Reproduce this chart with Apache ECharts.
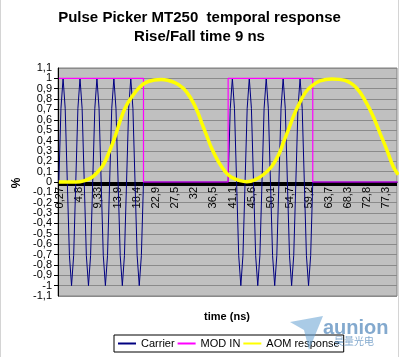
<!DOCTYPE html>
<html><head><meta charset="utf-8">
<script src="https://cdn.jsdelivr.net/npm/echarts@6/dist/echarts.min.js"></script>
<style>html,body{margin:0;padding:0;background:#fff}#c{width:399px;height:357px}</style>
</head><body><div id="c"></div>
<script>
const titleText = 'Pulse Picker MT250  temporal response\nRise/Fall time 9 ns';
const xAxisTitle = 'time (ns)';
const yAxisTitle = '%';
const seriesNames = ['Carrier', 'MOD IN', 'AOM response'];
const xTickValues = [0.27, 4.8, 9.33, 13.87, 18.4, 22.93, 27.47, 32, 36.53, 41.07, 45.6, 50.13, 54.67, 59.2, 63.73, 68.27, 72.8, 77.33];
const xTickLabels = ['0,27', '4,8', '9,33', '13,9', '18,4', '22,9', '27,5', '32', '36,5', '41,1', '45,6', '50,1', '54,7', '59,2', '63,7', '68,3', '72,8', '77,3'];
const yEndLabels = [-1.1, 1.1];

// Carrier [time ns, value]
const carrier = [
  [0,0],[0.5,0.71],[1,1],[1.5,0.71],[2,0],[2.5,-0.71],[3,-1],[3.5,-0.71],
  [4,0],[4.5,0.71],[5,1],[5.5,0.71],[6,0],[6.5,-0.71],[7,-1],[7.5,-0.71],
  [8,0],[8.5,0.71],[9,1],[9.5,0.71],[10,0],[10.5,-0.71],[11,-1],[11.5,-0.71],
  [12,0],[12.5,0.71],[13,1],[13.5,0.71],[14,0],[14.5,-0.71],[15,-1],[15.5,-0.71],
  [16,0],[16.5,0.71],[17,1],[17.5,0.71],[18,0],[18.5,-0.71],[19,-1],[19.5,-0.71],
  [20,0],
  [40,0],[40.5,0.71],[41,1],[41.5,0.71],[42,0],[42.5,-0.71],[43,-1],[43.5,-0.71],
  [44,0],[44.5,0.71],[45,1],[45.5,0.71],[46,0],[46.5,-0.71],[47,-1],[47.5,-0.71],
  [48,0],[48.5,0.71],[49,1],[49.5,0.71],[50,0],[50.5,-0.71],[51,-1],[51.5,-0.71],
  [52,0],[52.5,0.71],[53,1],[53.5,0.71],[54,0],[54.5,-0.71],[55,-1],[55.5,-0.71],
  [56,0],[56.5,0.71],[57,1],[57.5,0.71],[58,0],[58.5,-0.71],[59,-1],[59.5,-0.71],
  [60,0],[80,0]
];
// MOD IN [time ns, value]
const modIn = [[0,1],[20,1],[20,0],[40,0],[40,1],[60,1],[60,0],[80,0]];
// AOM response [time ns, value]
const aom = [
  [0,0],[3,0],[5,0.003],[7.4,0.035],[8.9,0.085],[10.5,0.165],[12.1,0.31],[13.3,0.44],
  [14.4,0.58],[15.6,0.71],[17.2,0.82],[19.2,0.92],[21.1,0.97],[24.2,0.99],
  [27.4,0.96],[29.4,0.905],[31.0,0.82],[32.6,0.695],[33.8,0.566],[35.0,0.44],
  [36.1,0.325],[37.7,0.196],[39.3,0.1],[40.8,0.045],[42.8,0.013],[44.4,0.003],
  [46.3,0.02],[48.3,0.07],[50.3,0.15],[51.9,0.26],[53.0,0.375],[54.2,0.5],
  [55.4,0.63],[56.6,0.74],[58.2,0.86],[59.7,0.925],[61.7,0.975],[64.5,0.995],
  [67.6,0.98],[70.4,0.905],[72.7,0.76],[74.3,0.63],[75.9,0.47],[77.5,0.31],
  [79.0,0.15],[80.2,0.07]
];

const FONT = '"Liberation Sans", Arial, sans-serif';
const minorTicks = [];
for (let t = 0.27 - 0.22667; t < 80; t += 0.22667) minorTicks.push(+t.toFixed(4));

const GRID_TOP = 68, GRID_BOTTOM = 61, H = 357;
const plotH = H - GRID_TOP - GRID_BOTTOM;
const zeroOffset = plotH * 1.1 / 2.2; // distance of y=0 from the plot bottom
const fmtY = v => String(Math.round(v * 10) / 10).replace('.', ',');

const chart = echarts.init(document.getElementById('c'), null, {renderer: 'canvas'});
chart.setOption({
  backgroundColor: '#ffffff',
  animation: false,
  title: {
    text: titleText, left: 'center', top: 3,
    textStyle: {fontFamily: FONT, fontSize: 15, fontWeight: 'bold', color: '#000', lineHeight: 19}
  },
  legend: {
    left: 114, top: 335,
    data: seriesNames.map(n => ({name: n, icon: 'rect'})),
    itemWidth: 18, itemHeight: 2, itemGap: 3,
    padding: [3, 4],
    borderColor: '#000', borderWidth: 1,
    textStyle: {fontFamily: FONT, fontSize: 11, color: '#000'}
  },
  grid: {
    left: 58, right: 2, top: GRID_TOP, bottom: GRID_BOTTOM,
    show: true, backgroundColor: '#c0c0c0', borderColor: '#808080', borderWidth: 1
  },
  xAxis: {
    type: 'value', min: -0.2, max: 79.9,
    offset: -zeroOffset,
    axisLine: {onZero: false, lineStyle: {color: '#000', width: 1}},
    axisTick: {show: true, customValues: minorTicks, length: 4, lineStyle: {color: '#000', width: 1}},
    axisLabel: {
      customValues: xTickValues, rotate: 90, margin: 5,
      fontFamily: FONT, fontSize: 11, color: '#000',
      formatter: v => {
        const i = xTickValues.findIndex(x => Math.abs(x - v) < 1e-6);
        return i >= 0 ? xTickLabels[i] : '';
      }
    },
    splitLine: {show: false}
  },
  yAxis: [{
    type: 'value', min: -1.1, max: 1.1, interval: 0.1,
    axisLine: {show: true, onZero: false, lineStyle: {color: '#000', width: 1}},
    axisTick: {show: true, length: 4, lineStyle: {color: '#000'}},
    axisLabel: {
      margin: 6, fontFamily: FONT, fontSize: 11, color: '#000',
      showMinLabel: false, showMaxLabel: false,
      formatter: fmtY
    },
    splitLine: {show: true, lineStyle: {color: '#8a8a8a', width: 1}}
  }, {
    type: 'value', min: -1.1, max: 1.1, interval: 0.1, position: 'left', offset: 0,
    axisLine: {show: false, onZero: false},
    axisTick: {show: false},
    splitLine: {show: false},
    axisLabel: {
      customValues: yEndLabels, margin: 6, fontFamily: FONT, fontSize: 11, color: '#000',
      formatter: fmtY
    }
  }],
  series: [
    {name: seriesNames[0], type: 'line', data: carrier, symbol: 'none', showSymbol: false,
     lineStyle: {color: '#000080', width: 1}, itemStyle: {color: '#000080'}},
    {name: seriesNames[1], type: 'line', data: modIn, symbol: 'none', showSymbol: false,
     lineStyle: {color: '#ff00ff', width: 1.2}, itemStyle: {color: '#ff00ff'}},
    {name: seriesNames[2], type: 'line', data: aom, symbol: 'none', showSymbol: false, smooth: 0.4,
     lineStyle: {color: '#ffff00', width: 3.5}, itemStyle: {color: '#ffff00'}}
  ],
  graphic: [
    {type: 'line', shape: {x1: 0.5, y1: 0, x2: 0.5, y2: 357}, style: {stroke: '#d4d4d4', lineWidth: 1}, silent: true},
    {type: 'line', shape: {x1: 398.5, y1: 0, x2: 398.5, y2: 357}, style: {stroke: '#d4d4d4', lineWidth: 1}, silent: true},
    {type: 'text', x: 17, y: 183, rotation: Math.PI / 2,
     style: {text: yAxisTitle, align: 'center', verticalAlign: 'middle', font: 'bold 12px ' + FONT, fill: '#000'}},
    {type: 'text', x: 227, y: 317,
     style: {text: xAxisTitle, align: 'center', verticalAlign: 'middle', font: 'bold 11px ' + FONT, fill: '#000'}},
    {type: 'polygon', shape: {points: [[290, 322], [323, 316], [309, 350], [304, 330]]},
     style: {fill: 'rgba(100,160,210,0.55)'}, z: 100, silent: true},
    {type: 'text', x: 323, y: 328,
     style: {text: 'aunion', verticalAlign: 'middle', font: 'bold 20px ' + FONT, fill: 'rgba(90,140,190,0.75)'}, z: 100},
    {type: 'text', x: 334, y: 341,
     style: {text: '昊量光电', verticalAlign: 'middle', font: '10px "Noto Sans CJK SC"', fill: 'rgba(90,140,190,0.75)'}, z: 100}
  ]
});
</script></body></html>
